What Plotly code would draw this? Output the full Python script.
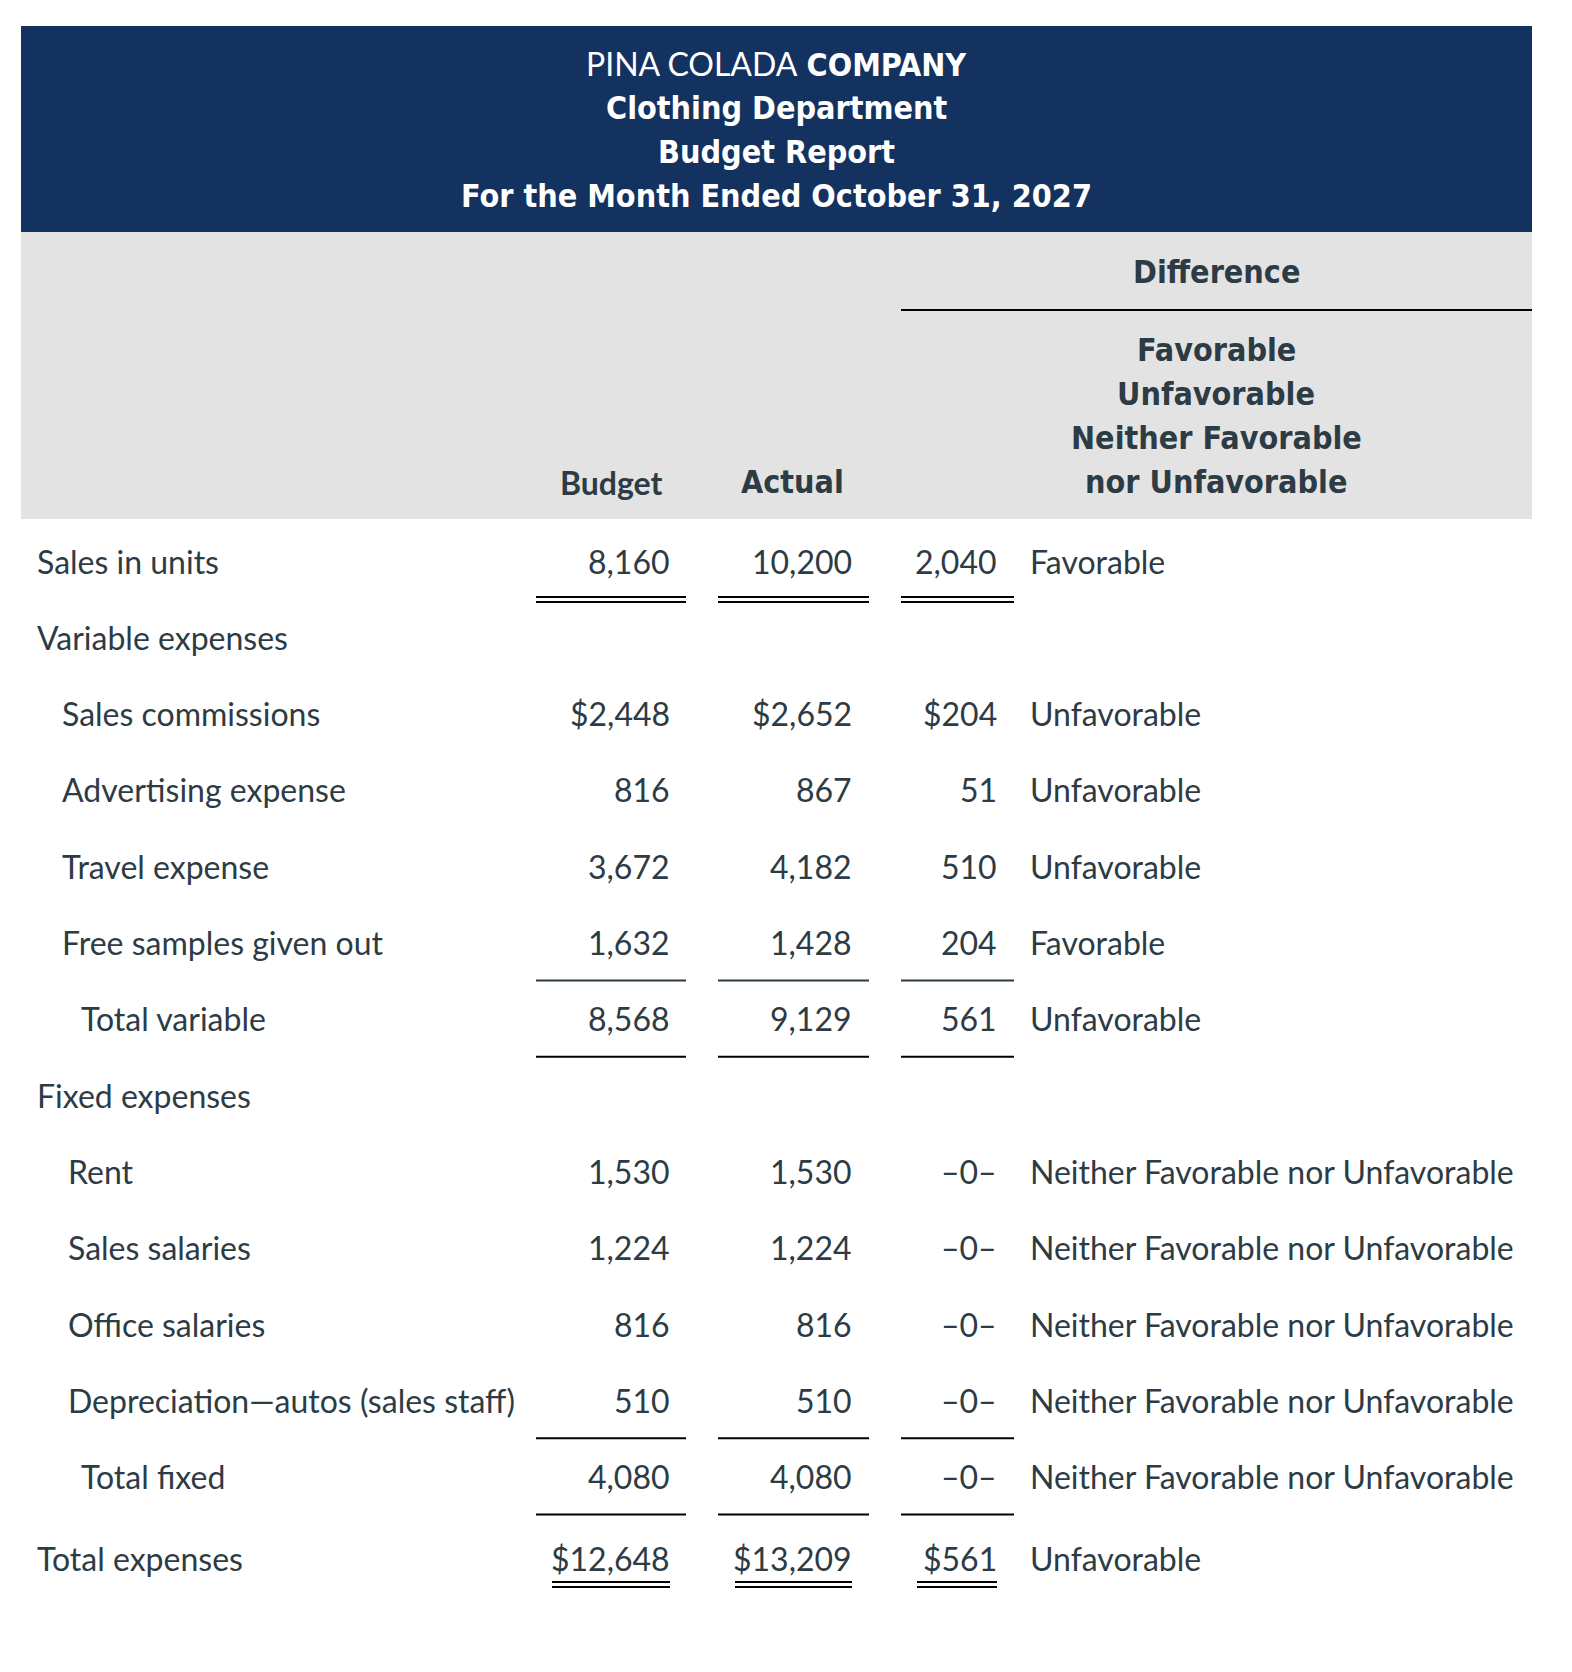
import plotly.graph_objects as go

# ---------------- data ----------------
title_lines = ["PINA COLADA <b>COMPANY</b>", "<b>Clothing Department</b>", "<b>Budget Report</b>",
               "<b>For the Month Ended October 31, 2027</b>"]
col_headers = ["Budget", "Actual"]
diff_header = "Difference"
diff_sub_header = ["Favorable", "Unfavorable", "Neither Favorable", "nor Unfavorable"]

row_labels = ["Sales in units", "Variable expenses", "Sales commissions", "Advertising expense",
              "Travel expense", "Free samples given out", "Total variable", "Fixed expenses",
              "Rent", "Sales salaries", "Office salaries", "Depreciation\u2014autos (sales staff)",
              "Total fixed", "Total expenses"]
row_indent = [0, 0, 1, 1, 1, 1, 2, 0, 3, 3, 3, 3, 2, 0]
budget = ["8,160", "", "$2,448", "816", "3,672", "1,632", "8,568", "", "1,530", "1,224", "816", "510", "4,080", "$12,648"]
actual = ["10,200", "", "$2,652", "867", "4,182", "1,428", "9,129", "", "1,530", "1,224", "816", "510", "4,080", "$13,209"]
difference = ["2,040", "", "$204", "51", "510", "204", "561", "", "\u20130\u2013", "\u20130\u2013", "\u20130\u2013", "\u20130\u2013", "\u20130\u2013", "$561"]
assessment = ["Favorable", "", "Unfavorable", "Unfavorable", "Unfavorable", "Favorable", "Unfavorable", "",
              "Neither Favorable nor Unfavorable", "Neither Favorable nor Unfavorable",
              "Neither Favorable nor Unfavorable", "Neither Favorable nor Unfavorable",
              "Neither Favorable nor Unfavorable", "Unfavorable"]
# underline style below each row
underline = ["double", None, None, None, None, "single_gray", "single", None, None, None, None, "single", "single", "double_text"]

# ---------------- layout / style ----------------
W, H = 1572, 1672
TXT = "#2d3b45"
NAVY = "#143260"
GRAY = "#e3e3e3"
BODY_FONT = "Lato, 'Noto Sans', sans-serif"
HEAD_FONT = "'DejaVu Sans Condensed', 'Open Sans', Lato, sans-serif"
FS = 32

row_y = [561 + i * 76.3 for i in range(13)] + [1558]
indent_x = [35, 60, 79, 66]
col_right = [672, 854, 999]
assess_x = 1028
col_span = [(536, 686), (718, 869), (901, 1014)]
col_text_span = [(552, 670), (735, 852), (917, 997)]

fig = go.Figure()
shapes = []
ann = []

# header blocks
shapes.append(dict(type="rect", x0=21, x1=1532, y0=26, y1=232, fillcolor=NAVY, line_width=0, layer="below"))
shapes.append(dict(type="rect", x0=21, x1=1532, y0=232, y1=519, fillcolor=GRAY, line_width=0, layer="below"))
shapes.append(dict(type="line", x0=901, x1=1532, y0=310, y1=310, line=dict(color="black", width=2)))

title_y = [64, 108, 152, 196]
for i, t in enumerate(title_lines):
    if i == 0:
        t = "<span style=\"font-family:Lato\">PINA COLADA</span> <b>COMPANY</b>"
    ann.append(dict(x=776, y=title_y[i], text=t, showarrow=False, xanchor="center", yanchor="middle",
                    font=dict(family=HEAD_FONT, size=FS, color="white")))

ann.append(dict(x=1216, y=272, text="<b>" + diff_header + "</b>", showarrow=False, xanchor="center",
                yanchor="middle", font=dict(family=HEAD_FONT, size=FS, color=TXT)))
for i, t in enumerate(diff_sub_header):
    ann.append(dict(x=1216, y=350 + i * 44, text="<b>" + t + "</b>", showarrow=False, xanchor="center",
                    yanchor="middle", font=dict(family=HEAD_FONT, size=FS, color=TXT)))
ann.append(dict(x=611, y=482, text="<b>" + col_headers[0] + "</b>", showarrow=False, xanchor="center",
                yanchor="middle", font=dict(family=BODY_FONT, size=FS, color=TXT)))
ann.append(dict(x=792, y=482, text="<b>" + col_headers[1] + "</b>", showarrow=False, xanchor="center",
                yanchor="middle", font=dict(family=HEAD_FONT, size=FS, color=TXT)))

# body rows
for i, lab in enumerate(row_labels):
    y = row_y[i]
    ann.append(dict(x=indent_x[row_indent[i]], y=y, text=lab, showarrow=False, xanchor="left", yanchor="middle",
                    font=dict(family=BODY_FONT, size=FS, color=TXT)))
    for c, vals in enumerate([budget, actual, difference]):
        if vals[i]:
            ann.append(dict(x=col_right[c], y=y, text=vals[i], showarrow=False, xanchor="right", yanchor="middle",
                            font=dict(family=BODY_FONT, size=FS, color=TXT)))
    if assessment[i]:
        ann.append(dict(x=assess_x, y=y, text=assessment[i], showarrow=False, xanchor="left", yanchor="middle",
                        font=dict(family=BODY_FONT, size=FS, color=TXT)))
    u = underline[i]
    if u == "double":
        for (a, b) in col_span:
            for dy in (36, 41):
                shapes.append(dict(type="line", x0=a, x1=b, y0=y + dy, y1=y + dy, line=dict(color="black", width=2)))
    elif u in ("single", "single_gray"):
        colr = TXT if u == "single_gray" else "black"
        for (a, b) in col_span:
            shapes.append(dict(type="line", x0=a, x1=b, y0=y + 38, y1=y + 38, line=dict(color=colr, width=2)))
    elif u == "double_text":
        for (a, b) in col_text_span:
            for dy in (24, 29):
                shapes.append(dict(type="line", x0=a, x1=b, y0=y + dy, y1=y + dy, line=dict(color="black", width=2)))

fig.update_layout(
    width=W, height=H, margin=dict(l=0, r=0, t=0, b=0),
    paper_bgcolor="white", plot_bgcolor="white",
    xaxis=dict(range=[0, W], visible=False, fixedrange=True),
    yaxis=dict(range=[H, 0], visible=False, fixedrange=True),
    shapes=shapes, annotations=ann, showlegend=False,
)
fig.write_html("out.html", config={"displayModeBar": False},
               post_script="document.body.style.margin='0';document.body.style.overflow='hidden';")
